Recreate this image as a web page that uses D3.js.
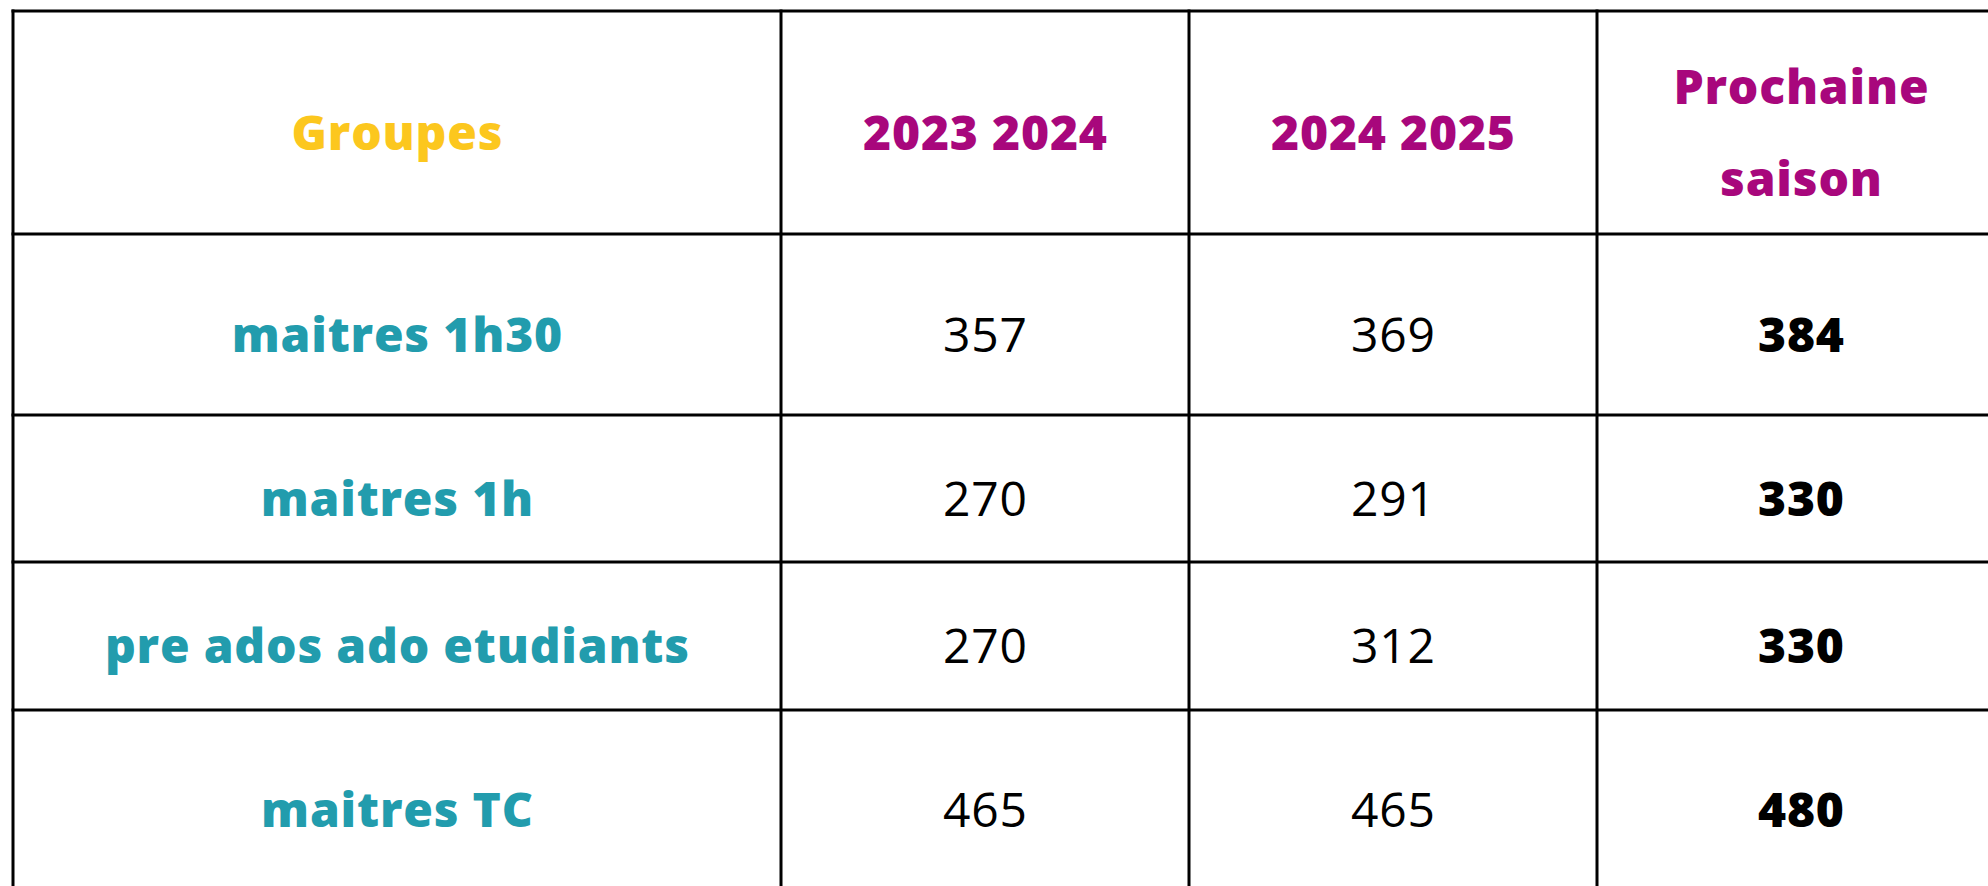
<!DOCTYPE html>
<html lang="fr">
<head>
<meta charset="utf-8">
<title>Groupes - saisons</title>
<script src="https://cdnjs.cloudflare.com/ajax/libs/d3/7.8.5/d3.min.js"></script>
<style>
  html, body { margin: 0; padding: 0; background: #fff; overflow: hidden; }
  svg text { font-family: "Open Sans", "Noto Sans", sans-serif; }
</style>
</head>
<body>
<svg id="chart" width="1988" height="886"></svg>
<script>
// data
var groupes = ["maitres 1h30", "maitres 1h", "pre ados ado etudiants", "maitres TC"];
var enTetes = ["Groupes", "2023 2024", "2024 2025", "Prochaine saison"];
var saison2324 = [357, 270, 270, 465];
var saison2425 = [369, 291, 312, 465];
var prochaine = [384, 330, 330, 480];

// layout of the grid
var colEdges = [13, 781, 1189, 1597, 2005];
var rowEdges = [11, 234, 415, 562, 710, 890];

var svg = d3.select("#chart");

function colMid(i) { return (colEdges[i] + colEdges[i + 1]) / 2; }
function rowMid(j) { return (rowEdges[j] + rowEdges[j + 1]) / 2; }

var JAUNE = "#fcc71e", MAGENTA = "#a8077c", TEAL = "#229cad";
var fs = 48, baseOff = 27;
var lsBold = 0.8, lsReg = 0.8;

// header
var head = svg.append("g");
enTetes.forEach(function (h, i) {
  var t = head.append("text")
    .attr("x", colMid(i) + lsBold / 2)
    .attr("text-anchor", "middle")
    .attr("font-size", fs)
    .attr("font-weight", 800)
    .attr("letter-spacing", lsBold)
    .attr("fill", i === 0 ? JAUNE : MAGENTA);
  if (i === 3) {
    var parts = h.split(" ");
    t.append("tspan").attr("x", colMid(i) + lsBold / 2).attr("y", rowMid(0) + baseOff - 46).text(parts[0]);
    t.append("tspan").attr("x", colMid(i) + lsBold / 2).attr("y", rowMid(0) + baseOff + 46).text(parts[1]);
  } else {
    t.attr("y", rowMid(0) + baseOff).text(h);
  }
});

// body rows
var rows = groupes.map(function (g, j) {
  return { groupe: g, vals: [saison2324[j], saison2425[j], prochaine[j]], j: j + 1 };
});

var rg = svg.selectAll("g.row").data(rows).enter().append("g").attr("class", "row");

rg.append("text")
  .attr("x", colMid(0) + lsBold / 2)
  .attr("y", function (d) { return rowMid(d.j) + baseOff; })
  .attr("text-anchor", "middle")
  .attr("font-size", fs)
  .attr("font-weight", 800)
  .attr("letter-spacing", lsBold)
  .attr("fill", TEAL)
  .text(function (d) { return d.groupe; });

rg.selectAll("text.val")
  .data(function (d) { return d.vals.map(function (v, k) { return { v: v, k: k + 1, j: d.j }; }); })
  .enter().append("text")
  .attr("class", "val")
  .attr("x", function (d) { return colMid(d.k) + lsReg / 2; })
  .attr("y", function (d) { return rowMid(d.j) + baseOff; })
  .attr("text-anchor", "middle")
  .attr("font-size", fs)
  .attr("font-weight", function (d) { return d.k === 3 ? 800 : 400; })
  .attr("letter-spacing", lsReg)
  .attr("fill", "#000")
  .text(function (d) { return d.v; });

// grid lines
var grid = svg.append("g").attr("stroke", "#000").attr("stroke-width", 3);
grid.selectAll("line.h").data(rowEdges.slice(0, 5)).enter().append("line")
  .attr("x1", colEdges[0] - 1.5).attr("x2", 1988)
  .attr("y1", function (d) { return d; }).attr("y2", function (d) { return d; });
grid.selectAll("line.v").data(colEdges.slice(0, 4)).enter().append("line")
  .attr("y1", rowEdges[0] - 1.5).attr("y2", 886)
  .attr("x1", function (d) { return d; }).attr("x2", function (d) { return d; });
</script>
</body>
</html>
